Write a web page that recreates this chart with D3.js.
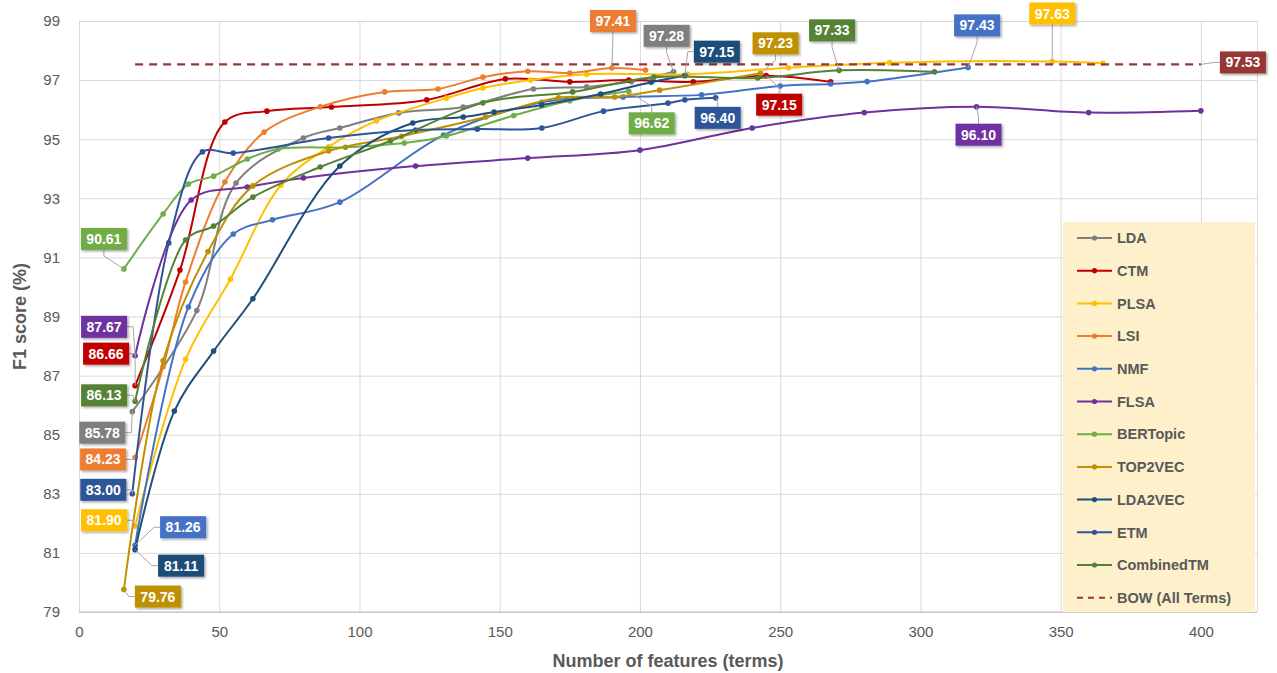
<!DOCTYPE html>
<html>
<head>
<meta charset="utf-8">
<script src="https://cdn.jsdelivr.net/npm/d3@7"></script>
<style>
  body { margin: 0; background: #fff; }
  text { font-family: "Liberation Sans", Arial, sans-serif; }
</style>
</head>
<body>
<svg id="chart"></svg>
<script>
// data: [features, F1 score]
let LDA = [[19,85.78],[42,89.2],[56,93.52],[80,95.04],[93,95.38],[114,95.89],[137,96.09],[162,96.7],[181,96.77],[197,96.95],[212,97.28]]
let CTM = [[20,86.66],[36,90.57],[52,95.58],[67,95.95],[90,96.09],[124,96.33],[152,97.04],[175,96.94],[196,97.0],[219,96.94],[245,97.15],[268,96.94]]
let PLSA = [[20,81.9],[38,87.55],[54,90.27],[72,93.45],[89,94.74],[106,95.62],[131,96.39],[144,96.73],[161,97.0],[181,97.2],[217,97.2],[253,97.42],[289,97.59],[347,97.63],[365,97.57]]
let LSI = [[20,84.23],[30,87.3],[38,90.17],[52,93.55],[66,95.24],[86,96.1],[109,96.6],[128,96.7],[144,97.1],[160,97.3],[175,97.24],[190,97.41],[202,97.34]]
let NMF = [[20,81.26],[39,89.32],[55,91.79],[69,92.27],[93,92.87],[130,95.14],[165,96.25],[194,96.43],[222,96.5],[250,96.8],[268,96.87],[281,96.95],[317,97.43]]
let FLSA = [[20,87.67],[40,92.94],[60,93.38],[80,93.69],[120,94.09],[160,94.36],[200,94.63],[240,95.38],[280,95.9],[320,96.1],[360,95.9],[400,95.96]]
let BERTopic = [[16,90.61],[30,92.47],[39,93.48],[48,93.75],[60,94.33],[71,94.67],[95,94.73],[116,94.87],[131,95.11],[155,95.8],[175,96.3],[196,96.62]]
let TOP2VEC = [[16,79.76],[30,87.5],[46,91.2],[62,93.42],[89,94.6],[115,95.1],[145,95.75],[171,96.4],[191,96.43],[207,96.66],[243,97.23]]
let LDA2VEC = [[20,81.11],[34,85.8],[48,87.83],[62,89.6],[93,94.09],[119,95.55],[137,95.75],[148,95.92],[165,96.16],[186,96.53],[204,96.93],[216,97.15]]
let ETM = [[19,83.0],[32,91.49],[44,94.57],[55,94.53],[89,95.04],[120,95.31],[142,95.34],[165,95.38],[187,95.95],[210,96.22],[216,96.33],[227,96.4]]
let CombinedTM = [[20,86.13],[38,91.59],[48,92.06],[62,93.04],[86,94.06],[111,94.94],[144,96.23],[176,96.6],[205,97.1],[242,97.07],[271,97.33],[305,97.28]]
let BOW = [[20,97.53],[400,97.53]]

let seriesNames = ['LDA','CTM','PLSA','LSI','NMF','FLSA','BERTopic','TOP2VEC','LDA2VEC','ETM','CombinedTM','BOW (All Terms)']
let seriesData = [LDA, CTM, PLSA, LSI, NMF, FLSA, BERTopic, TOP2VEC, LDA2VEC, ETM, CombinedTM, BOW]
let seriesColors = ['#7f7f7f','#c00000','#ffc000','#ed7d31','#4472c4','#7030a0','#70ad47','#bf9000','#1f4e79','#2f5597','#548235','#953735']

let xTicks = [0,50,100,150,200,250,300,350,400]
let yTicks = [79,81,83,85,87,89,91,93,95,97,99]

// data labels: series index, point index, box offset from point (px)
let labelSpots = [
  {s:6, i:0, dx:-20, dy:-30},
  {s:5, i:0, dx:-31, dy:-29},
  {s:1, i:0, dx:-29, dy:-32},
  {s:10, i:0, dx:-31, dy:-6},
  {s:0, i:0, dx:-30, dy:21},
  {s:3, i:0, dx:-32, dy:2},
  {s:9, i:0, dx:-29, dy:-4},
  {s:2, i:0, dx:-31, dy:-6},
  {s:4, i:0, dx:48, dy:-18},
  {s:8, i:0, dx:46, dy:16},
  {s:7, i:0, dx:34, dy:7},
  {s:3, i:11, dx:1, dy:-47},
  {s:0, i:10, dx:-7, dy:-36},
  {s:8, i:11, dx:32, dy:-24},
  {s:7, i:10, dx:15, dy:-30},
  {s:10, i:10, dx:-7, dy:-40},
  {s:4, i:12, dx:9, dy:-42},
  {s:2, i:13, dx:0, dy:-48},
  {s:11, i:1, dx:42, dy:-2},
  {s:6, i:11, dx:23, dy:32},
  {s:9, i:11, dx:2, dy:20},
  {s:1, i:10, dx:13, dy:29},
  {s:5, i:9, dx:2, dy:28}
]

let width = 1277
let height = 673
let plot = {left: 79, right: 1257, top: 21, bottom: 612}

let svg = d3.select('#chart').attr('width', width).attr('height', height)

let xScale = d3.scaleLinear().domain([0, 420]).range([plot.left, plot.right])
let yScale = d3.scaleLinear().domain([79, 99]).range([plot.bottom, plot.top])

let defs = svg.append('defs')
let shadow = defs.append('filter').attr('id', 'shadow').attr('x', '-20%').attr('y', '-20%').attr('width', '150%').attr('height', '160%')
shadow.append('feDropShadow').attr('dx', 1.5).attr('dy', 1.5).attr('stdDeviation', 1.2).attr('flood-color', '#000').attr('flood-opacity', 0.35)

// gridlines
svg.append('g')
   .attr('transform', 'translate(0,' + plot.bottom + ')')
   .call(d3.axisBottom(xScale).tickValues(xTicks.concat([420])).tickSize(-(plot.bottom - plot.top)).tickFormat(''))
   .call(g => g.select('.domain').remove())
   .selectAll('line').attr('stroke', '#d9d9d9')

svg.append('g')
   .attr('transform', 'translate(' + plot.left + ',0)')
   .call(d3.axisLeft(yScale).tickValues(yTicks).tickSize(-(plot.right - plot.left)).tickFormat(''))
   .call(g => g.select('.domain').remove())
   .selectAll('line').attr('stroke', '#d9d9d9')

svg.append('line')
   .attr('x1', plot.left).attr('x2', plot.right)
   .attr('y1', plot.bottom).attr('y2', plot.bottom)
   .attr('stroke', '#bfbfbf').attr('stroke-width', 1.2)

// tick labels
let xAxis = svg.append('g')
   .attr('transform', 'translate(0,' + (plot.bottom + 10) + ')')
   .call(d3.axisBottom(xScale).tickValues(xTicks).tickSize(0).tickPadding(4))
xAxis.select('.domain').remove()
xAxis.selectAll('text').attr('font-size', 15).attr('fill', '#595959').style('font-family', '"Liberation Sans", Arial, sans-serif')

let yAxis = svg.append('g')
   .attr('transform', 'translate(' + (plot.left - 17) + ',0)')
   .call(d3.axisLeft(yScale).tickValues(yTicks).tickSize(0).tickPadding(2))
yAxis.select('.domain').remove()
yAxis.selectAll('text').attr('font-size', 15).attr('fill', '#595959').style('font-family', '"Liberation Sans", Arial, sans-serif')

svg.append('text')
   .attr('x', (plot.left + plot.right) / 2).attr('y', 667)
   .attr('text-anchor', 'middle')
   .attr('font-size', 18).attr('font-weight', 'bold').attr('fill', '#595959')
   .text('Number of features (terms)')

svg.append('text')
   .attr('transform', 'translate(26,' + ((plot.top + plot.bottom) / 2) + ') rotate(-90)')
   .attr('text-anchor', 'middle')
   .attr('font-size', 18).attr('font-weight', 'bold').attr('fill', '#595959')
   .text('F1 score (%)')

// legend box sits under the lines
let legend = svg.append('g')
legend.append('rect')
   .attr('x', 1063).attr('y', 222).attr('width', 192).attr('height', 390)
   .attr('fill', '#fdf0cb')

// series
let line = d3.line()
   .x(d => xScale(d[0]))
   .y(d => yScale(d[1]))
   .curve(d3.curveCatmullRom.alpha(0.5))

seriesData.forEach((data, k) => {
    let isBow = k == 11
    svg.append('path')
       .attr('d', line(data))
       .attr('fill', 'none')
       .attr('stroke', seriesColors[k])
       .attr('stroke-width', isBow ? 2.2 : 2)
       .attr('stroke-dasharray', isBow ? '8,6' : null)
    if (!isBow) {
        svg.append('g').selectAll('circle')
           .data(data)
           .enter()
           .append('circle')
           .attr('cx', d => xScale(d[0]))
           .attr('cy', d => yScale(d[1]))
           .attr('r', 2.8)
           .attr('fill', seriesColors[k])
    }
})

// legend entries
seriesNames.forEach((name, k) => {
    let ly = 238 + k * 32.7
    let g = legend.append('g')
    g.append('line')
       .attr('x1', 1077).attr('x2', 1112).attr('y1', ly).attr('y2', ly)
       .attr('stroke', seriesColors[k]).attr('stroke-width', 2)
       .attr('stroke-dasharray', k == 11 ? '6,5' : null)
    if (k != 11) {
        g.append('circle').attr('cx', 1094.5).attr('cy', ly).attr('r', 2.6).attr('fill', seriesColors[k])
    }
    g.append('text')
       .attr('x', 1117).attr('y', ly).attr('dy', '0.36em')
       .attr('font-size', 14.5).attr('font-weight', 'bold').attr('fill', '#595959')
       .text(name)
})

// data labels with leader lines
let boxW = 46, boxH = 22
labelSpots.forEach(spot => {
    let pt = seriesData[spot.s][spot.i]
    let px = xScale(pt[0]), py = yScale(pt[1])
    let cx = px + spot.dx, cy = py + spot.dy
    let pts
    if (Math.abs(spot.dx) > boxW / 2 + 3) {
        let sx = Math.sign(spot.dx)
        let ax = cx - sx * boxW / 2
        pts = [[ax, cy], [ax - sx * 6, cy], [px, py]]
    } else {
        let sy = Math.sign(spot.dy)
        let ay = cy - sy * boxH / 2
        pts = [[cx, ay], [cx, ay - sy * 6], [px, py]]
    }
    svg.append('path')
       .attr('d', d3.line()(pts))
       .attr('fill', 'none')
       .attr('stroke', '#a6a6a6')
       .attr('stroke-width', 1)
    svg.append('rect')
       .attr('x', cx - boxW / 2).attr('y', cy - boxH / 2)
       .attr('width', boxW).attr('height', boxH)
       .attr('fill', seriesColors[spot.s])
       .attr('filter', 'url(#shadow)')
    svg.append('text')
       .attr('x', cx).attr('y', cy).attr('dy', '0.36em')
       .attr('text-anchor', 'middle')
       .attr('font-size', 14).attr('font-weight', 'bold').attr('fill', '#fff')
       .text(pt[1].toFixed(2))
})
</script>
</body>
</html>
